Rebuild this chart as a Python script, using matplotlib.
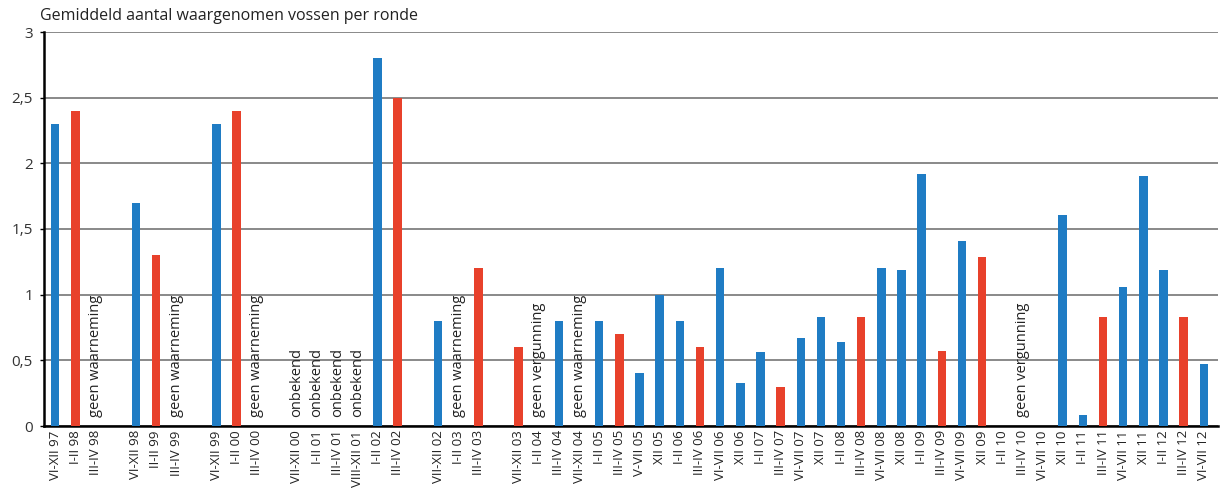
import numpy as np
import matplotlib.pyplot as plt

plt.rcParams['font.family'] = ['Open Sans', 'DejaVu Sans']

# slots along the x axis; '' marks an empty gap between groups
labels = ['VI-XII 97', 'I-II 98', 'III-IV 98', '',
          'VI-XII 98', 'II-II 99', 'III-IV 99', '',
          'VI-XII 99', 'I-II 00', 'III-IV 00', '',
          'VII-XII 00', 'I-II 01', 'III-IV 01', 'VIII-XII 01', 'I-II 02', 'III-IV 02', '',
          'VII-XII 02', 'I-II 03', 'III-IV 03', '',
          'VII-XII 03', 'I-II 04', 'III-IV 04', 'VII-XII 04', 'I-II 05', 'III-IV 05',
          'V-VII 05', 'XII 05', 'I-II 06', 'III-IV 06', 'VI-VII 06', 'XII 06',
          'I-II 07', 'III-IV 07', 'VI-VII 07', 'XII 07', 'I-II 08', 'III-IV 08',
          'VI-VII 08', 'XII 08', 'I-II 09', 'III-IV 09', 'VI-VII 09', 'XII 09',
          'I-II 10', 'III-IV 10', 'VI-VII 10', 'XII 10', 'I-II 11', 'III-IV 11',
          'VI-VII 11', 'XII 11', 'I-II 12', 'III-IV 12', 'VI-VII 12']

# average foxes per round; None = no bar
values = [2.3, 2.4, None, None,
          1.7, 1.3, None, None,
          2.3, 2.4, None, None,
          None, None, None, None, 2.8, 2.5, None,
          0.8, None, 1.2, None,
          0.6, None, 0.8, None, 0.8, 0.7,
          0.4, 1.0, 0.8, 0.6, 1.2, 0.33,
          0.56, 0.3, 0.67, 0.83, 0.64, 0.83,
          1.2, 1.19, 1.92, 0.57, 1.41, 1.29,
          None, None, None, 1.61, 0.08, 0.83,
          1.06, 1.9, 1.19, 0.83, 0.47]

# 'r' = red bar, 'b' = blue bar
colors = ['b', 'r', '', '',
          'b', 'r', '', '',
          'b', 'r', '', '',
          '', '', '', '', 'b', 'r', '',
          'b', '', 'r', '',
          'r', '', 'b', '', 'b', 'r',
          'b', 'b', 'b', 'r', 'b', 'b',
          'b', 'r', 'b', 'b', 'b', 'r',
          'b', 'b', 'b', 'r', 'b', 'r',
          '', '', '', 'b', 'b', 'r',
          'b', 'b', 'b', 'r', 'b']

notes = {'III-IV 98': 'geen waarneming', 'III-IV 99': 'geen waarneming',
         'III-IV 00': 'geen waarneming', 'I-II 03': 'geen waarneming',
         'VII-XII 04': 'geen waarneming', 'I-II 04': 'geen vergunning',
         'III-IV 10': 'geen vergunning', 'VII-XII 00': 'onbekend',
         'I-II 01': 'onbekend', 'III-IV 01': 'onbekend', 'VIII-XII 01': 'onbekend'}

palette = {'b': '#1f7cc4', 'r': '#e8412b'}

fig = plt.figure(figsize=(12.24, 5), dpi=100)
ax = fig.add_axes([0.036, 0.148, 0.959, 0.788])

x = np.arange(len(labels))
for xi, v, c in zip(x, values, colors):
    if v is not None:
        ax.bar(xi, v, width=0.42, color=palette[c], zorder=3)

for lab, txt in notes.items():
    xi = labels.index(lab)
    ax.text(xi, 0.07, txt, rotation=90, ha='center', va='bottom', fontsize=10.5, color='#222222', zorder=4)

ax.set_xlim(-0.55, 57.7)
ax.set_ylim(0, 3)
ax.set_yticks([0, 0.5, 1, 1.5, 2, 2.5, 3])
ax.set_yticklabels(['0', '0,5', '1', '1,5', '2', '2,5', '3'], fontsize=11, color='#333333')
ax.yaxis.grid(True, color='#808080', linewidth=1.3, zorder=0)

tick_pos = [xi for xi, lab in zip(x, labels) if lab]
tick_lab = [lab for lab in labels if lab]
ax.set_xticks(tick_pos)
ax.set_xticklabels(tick_lab, rotation=90, fontsize=9.5, color='#222222')
ax.tick_params(axis='x', length=0, pad=3)
ax.tick_params(axis='y', length=3, width=1, pad=5)

for s in ['top', 'right']:
    ax.spines[s].set_visible(False)
ax.spines['left'].set_linewidth(1.8)
ax.spines['bottom'].set_linewidth(1.8)

fig.text(0.033, 0.985, 'Gemiddeld aantal waargenomen vossen per ronde', fontsize=11.5,
         color='#222222', ha='left', va='top')

fig.savefig('out.png', dpi=100)
